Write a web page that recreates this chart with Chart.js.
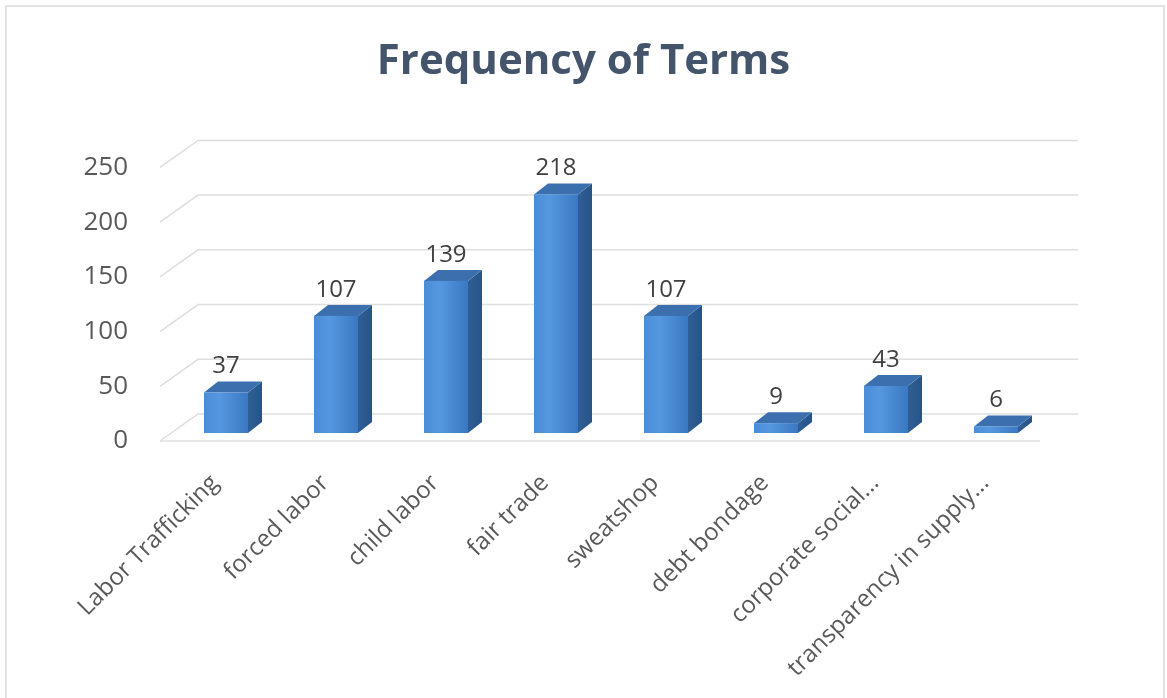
<!DOCTYPE html>
<html>
<head>
<meta charset="utf-8">
<title>Frequency of Terms</title>
<script src="https://cdn.jsdelivr.net/npm/chart.js@4.4.1/dist/chart.umd.min.js"></script>
<style>
  html, body { margin: 0; padding: 0; background: #ffffff; }
  canvas { display: block; }
</style>
</head>
<body>
<canvas id="chart" width="1167" height="698"></canvas>
<script>
// Terms counted and how often each appears
const categories = [
  'Labor Trafficking', 'forced labor', 'child labor', 'fair trade',
  'sweatshop', 'debt bondage', 'corporate social...', 'transparency in supply...'
];
const frequencies = [37, 107, 139, 218, 107, 9, 43, 6];
const valueTicks = [0, 50, 100, 150, 200, 250];

// Oblique projection of the chart box: how far the back wall sits from the floor's front edge
const WALL_DX = 38, WALL_DY = -27;
// Where each column sits inside that depth
const COL_FRONT_DX = 11, COL_FRONT_DY = -8;
const COL_DEPTH_DX = 14, COL_DEPTH_DY = -11;

const FONT = "'Open Sans', 'Noto Sans', sans-serif";

// Outer frame of the chart object
const framePlugin = {
  id: 'frame',
  beforeDraw(chart) {
    const ctx = chart.ctx;
    ctx.save();
    ctx.fillStyle = '#ffffff';
    ctx.fillRect(0, 0, chart.width, chart.height);
    ctx.strokeStyle = '#e2e2e2';
    ctx.lineWidth = 2;
    ctx.beginPath();
    ctx.moveTo(6, chart.height);
    ctx.lineTo(6, 6);
    ctx.lineTo(1164, 6);
    ctx.lineTo(1164, chart.height);
    ctx.stroke();
    ctx.restore();
  }
};

// Back wall gridlines, side wall diagonals and the floor edge
const wallsPlugin = {
  id: 'walls',
  beforeDatasetsDraw(chart) {
    const { ctx, chartArea } = chart;
    const ys = chart.scales.y;
    const left = chartArea.left, right = chartArea.right;
    ctx.save();
    ctx.strokeStyle = '#dedede';
    ctx.lineWidth = 1.5;
    valueTicks.forEach(v => {
      const y = ys.getPixelForValue(v);
      ctx.beginPath();
      ctx.moveTo(left, y);
      ctx.lineTo(left + WALL_DX, y + WALL_DY);
      ctx.lineTo(right + WALL_DX, y + WALL_DY);
      ctx.stroke();
    });
    const y0 = ys.getPixelForValue(0);
    ctx.beginPath();
    ctx.moveTo(left, y0);
    ctx.lineTo(right, y0);
    ctx.stroke();
    ctx.restore();
  }
};

// Columns drawn as shaded prisms from the bar elements the library lays out
const columnsPlugin = {
  id: 'columns3d',
  afterDatasetsDraw(chart) {
    const ctx = chart.ctx;
    const meta = chart.getDatasetMeta(0);
    ctx.save();
    meta.data.forEach((bar, i) => {
      const p = bar.getProps(['x', 'y', 'base', 'width'], true);
      const x0 = p.x - p.width / 2 + COL_FRONT_DX;
      const x1 = p.x + p.width / 2 + COL_FRONT_DX;
      const yTop = p.y + COL_FRONT_DY;
      const yBot = p.base + COL_FRONT_DY;

      // side face
      const side = ctx.createLinearGradient(x1, 0, x1 + COL_DEPTH_DX, 0);
      side.addColorStop(0, '#2f5f97');
      side.addColorStop(1, '#285384');
      ctx.fillStyle = side;
      ctx.beginPath();
      ctx.moveTo(x1, yTop);
      ctx.lineTo(x1 + COL_DEPTH_DX, yTop + COL_DEPTH_DY);
      ctx.lineTo(x1 + COL_DEPTH_DX, yBot + COL_DEPTH_DY);
      ctx.lineTo(x1, yBot);
      ctx.closePath();
      ctx.fill();

      // top face
      ctx.fillStyle = '#3b6fae';
      ctx.beginPath();
      ctx.moveTo(x0, yTop);
      ctx.lineTo(x0 + COL_DEPTH_DX, yTop + COL_DEPTH_DY);
      ctx.lineTo(x1 + COL_DEPTH_DX, yTop + COL_DEPTH_DY);
      ctx.lineTo(x1, yTop);
      ctx.closePath();
      ctx.fill();

      // front face
      const front = ctx.createLinearGradient(x0, 0, x1, 0);
      front.addColorStop(0, '#4a8cd6');
      front.addColorStop(0.35, '#5598e0');
      front.addColorStop(1, '#3b78c2');
      ctx.fillStyle = front;
      ctx.fillRect(x0, yTop, x1 - x0, yBot - yTop);

      // value label
      ctx.fillStyle = '#404040';
      ctx.font = "24px " + FONT;
      ctx.textAlign = 'center';
      ctx.textBaseline = 'bottom';
      ctx.fillText(String(frequencies[i]), (x0 + x1) / 2, yTop - 14);
    });
    ctx.restore();
  }
};

new Chart(document.getElementById('chart'), {
  type: 'bar',
  data: {
    labels: categories,
    datasets: [{
      label: 'Frequency',
      data: frequencies,
      backgroundColor: 'rgba(0,0,0,0)',
      borderWidth: 0,
      barPercentage: 0.4,
      categoryPercentage: 1
    }]
  },
  options: {
    responsive: false,
    animation: false,
    devicePixelRatio: 1,
    layout: { padding: 0 },
    plugins: {
      legend: { display: false },
      tooltip: { enabled: false },
      title: {
        display: true,
        text: 'Frequency of Terms',
        color: '#44546a',
        font: { family: FONT, size: 42, weight: 'bold', lineHeight: 1.2 },
        padding: { top: 37, bottom: 80 }
      }
    },
    scales: {
      x: {
        grid: { display: false, drawTicks: false },
        border: { display: false },
        ticks: {
          autoSkip: false,
          minRotation: 45,
          maxRotation: 45,
          color: '#595959',
          font: { family: FONT, size: 24 },
          padding: 28
        },
        afterFit(scale) { scale.height = 257; }
      },
      y: {
        min: 0,
        max: 250,
        grid: { display: false, drawTicks: false },
        border: { display: false },
        ticks: {
          stepSize: 50,
          color: '#595959',
          font: { family: FONT, size: 26 },
          padding: 32
        },
        afterFit(scale) { scale.width = 160; }
      },
      // empty band on the right that holds the back wall's overhang
      margin: {
        type: 'linear',
        position: 'right',
        display: true,
        grid: { display: false, drawTicks: false },
        border: { display: false },
        ticks: { display: false },
        afterFit(scale) { scale.width = 127; }
      }
    }
  },
  plugins: [framePlugin, wallsPlugin, columnsPlugin]
});
</script>
</body>
</html>
